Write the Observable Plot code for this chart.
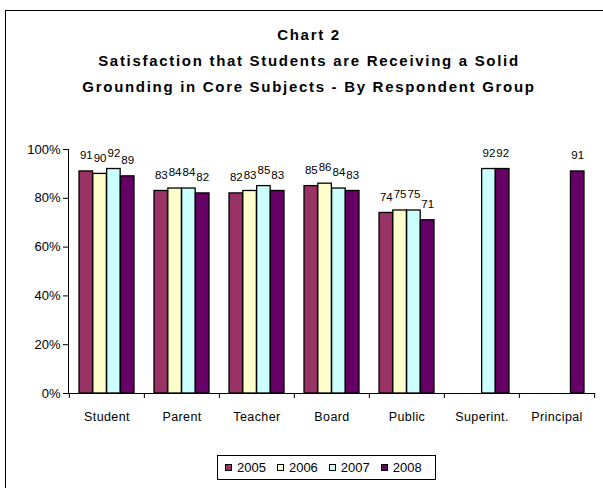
<!DOCTYPE html>
<html><head><meta charset="utf-8">
<script src="https://cdn.jsdelivr.net/npm/d3@7"></script>
<script src="https://cdn.jsdelivr.net/npm/@observablehq/plot@0.6"></script>
<style>
html,body{margin:0;padding:0;background:#fff;width:603px;height:488px;overflow:hidden;font-family:"Liberation Sans",Arial,sans-serif;color:#000;}
#border{position:absolute;left:5px;top:10px;width:700px;height:600px;border:1px solid #000;}
#title{position:absolute;left:0;top:22px;width:618px;text-align:center;font-weight:bold;font-size:15px;line-height:26px;letter-spacing:1.7px;}
#chart{position:absolute;left:0;top:130px;}
#chart svg{font-family:"Liberation Sans",Arial,sans-serif;}
#chart svg g.xlab text{letter-spacing:0.4px;}
#legend{position:absolute;left:217px;top:455px;width:219px;height:25px;border:1px solid #000;display:flex;align-items:center;padding-left:7px;box-sizing:border-box;font-size:13px;}
#legend .item{display:flex;align-items:center;margin-right:11px;}
#legend .sw{width:5px;height:5px;border:1px solid #000;margin-right:5px;}
</style>
</head><body>
<div id="border"></div>
<div id="title"></div>
<div id="chart"></div>
<div id="legend"></div>
<script>
const titleLines = ["Chart 2", "Satisfaction that Students are Receiving a Solid", "Grounding in Core Subjects - By Respondent Group"];
const categories = ["Student", "Parent", "Teacher", "Board", "Public", "Superint.", "Principal"];
const years = ["2005", "2006", "2007", "2008"];
const colors = ["#993366", "#FFFFCC", "#CCFFFF", "#660066"];
const v2005 = [91, 83, 82, 85, 74, null, null];
const v2006 = [90, 84, 83, 86, 75, null, null];
const v2007 = [92, 84, 85, 84, 75, 92, null];
const v2008 = [89, 82, 83, 83, 71, 92, 91];
const yTicks = [0, 20, 40, 60, 80, 100];

const series = [v2005, v2006, v2007, v2008];
const rows = [];
series.forEach((vals, j) => vals.forEach((v, i) => {
  if (v != null) rows.push({category: categories[i], year: years[j], value: v});
}));

document.getElementById("title").innerHTML = titleLines.map(t => `<div>${t}</div>`).join("");

const W = 603, ML = 68, MR = 8;
const step = (W - ML - MR) / categories.length;
const gap = step * 0.133;
const bw = (step - 2 * gap) / years.length;

const marks = [
  Plot.axisY({ticks: yTicks, tickFormat: d => d + "%", tickSize: 5, tickPadding: 3, fontSize: 13, label: null}),
  Plot.frame({anchor: "left"})
];
years.forEach((yr, j) => {
  const d = rows.filter(r => r.year === yr);
  marks.push(Plot.barY(d, {x: "category", y: "value", fill: colors[j], stroke: "#000", strokeWidth: 1.3,
    insetLeft: gap + j * bw, insetRight: step - gap - (j + 1) * bw}));
});
years.forEach((yr, j) => {
  const d = rows.filter(r => r.year === yr);
  marks.push(Plot.text(d, {x: "category", y: "value", text: r => String(r.value),
    dx: -step / 2 + gap + (j + 0.5) * bw, dy: -16, fontSize: 11.5, fill: "#000"}));
});
marks.push(
  Plot.ruleY([0]),
  Plot.axisX({tickSize: 0, tickPadding: 19, fontSize: 12.5, label: null, className: "xlab"}),
  Plot.axisX({tickSize: 5, tickFormat: () => "", dx: -step / 2, label: null}),
  Plot.axisX({ticks: [categories[categories.length - 1]], tickSize: 5, tickFormat: () => "", dx: step / 2, label: null})
);

const chart = Plot.plot({
  width: W, height: 300,
  marginLeft: ML, marginRight: MR, marginTop: 19, marginBottom: 37,
  x: {type: "band", domain: categories, padding: 0, axis: null},
  y: {domain: [0, 100], axis: null},
  marks
});
document.getElementById("chart").appendChild(chart);

document.getElementById("legend").innerHTML = years.map((y, j) =>
  `<div class="item"><div class="sw" style="background:${colors[j]}"></div><span>${y}</span></div>`).join("");
</script>
</body></html>
